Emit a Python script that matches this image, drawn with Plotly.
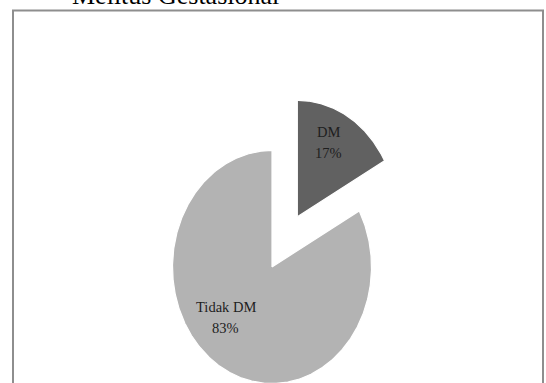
import numpy as np
import plotly.graph_objects as go

# Slice data
labels = ["DM", "Tidak DM"]
values = [17, 83]
colors = ["#616161", "#b3b3b3"]
pulls = [0.5, 0.0]

title_text = "Melitus Gestasional"

# Canvas / geometry (pixel units, y grows downward)
W, H = 546, 383
CX, CY = 272, 267          # pie centre
RX, RY = 99.5, 116.5       # horizontal / vertical radius
label_pos = {"DM": (328, 132), "Tidak DM": (225.5, 307)}
LINE_GAP = 20.5
TEXT_FONT = dict(family="Liberation Serif, Times New Roman, serif", size=14.5, color="#1e1e1e")

fig = go.Figure()

total = float(sum(values))
start = 0.0
for lab, val, col, pull in zip(labels, values, colors, pulls):
    span = 360.0 * val / total
    a0, a1 = start, start + span
    mid = np.radians((a0 + a1) / 2.0)
    ox = CX + pull * RX * np.sin(mid)
    oy = CY - pull * RY * np.cos(mid)
    t = np.radians(np.linspace(a0, a1, max(int(span * 2), 2)))
    xs = np.concatenate([[ox], ox + RX * np.sin(t), [ox]])
    ys = np.concatenate([[oy], oy - RY * np.cos(t), [oy]])
    fig.add_trace(go.Scatter(
        x=xs, y=ys, mode="lines", fill="toself", fillcolor=col,
        line=dict(color="white", width=1.2),
        hoverinfo="text", text=f"{lab}: {val}%", showlegend=False,
    ))
    lx, ly = label_pos[lab]
    fig.add_annotation(x=lx, y=ly, xref="x", yref="y", text=lab,
                       showarrow=False, font=TEXT_FONT,
                       xanchor="center", yanchor="middle")
    fig.add_annotation(x=lx, y=ly + LINE_GAP, xref="x", yref="y", text=f"{val}%",
                       showarrow=False, font=TEXT_FONT,
                       xanchor="center", yanchor="middle")
    start = a1

# Chart frame
fig.add_shape(type="rect", xref="x", yref="y", x0=13, x1=543, y0=10.5, y1=H + 20,
              line=dict(color="#8e8e8e", width=2), fillcolor="rgba(0,0,0,0)", layer="below")

# Title (mostly above the visible area)
fig.add_annotation(x=70, y=12, xref="x", yref="y", text=title_text, showarrow=False,
                   xanchor="left", yanchor="bottom",
                   font=dict(family="Liberation Serif, Times New Roman, serif", size=26, color="#000000"))

fig.update_xaxes(range=[0, W], visible=False, fixedrange=True)
fig.update_yaxes(range=[H, 0], visible=False, fixedrange=True)
fig.update_layout(width=W, height=H, margin=dict(l=0, r=0, t=0, b=0),
                  paper_bgcolor="white", plot_bgcolor="white", showlegend=False)

fig.write_html("out.html")
